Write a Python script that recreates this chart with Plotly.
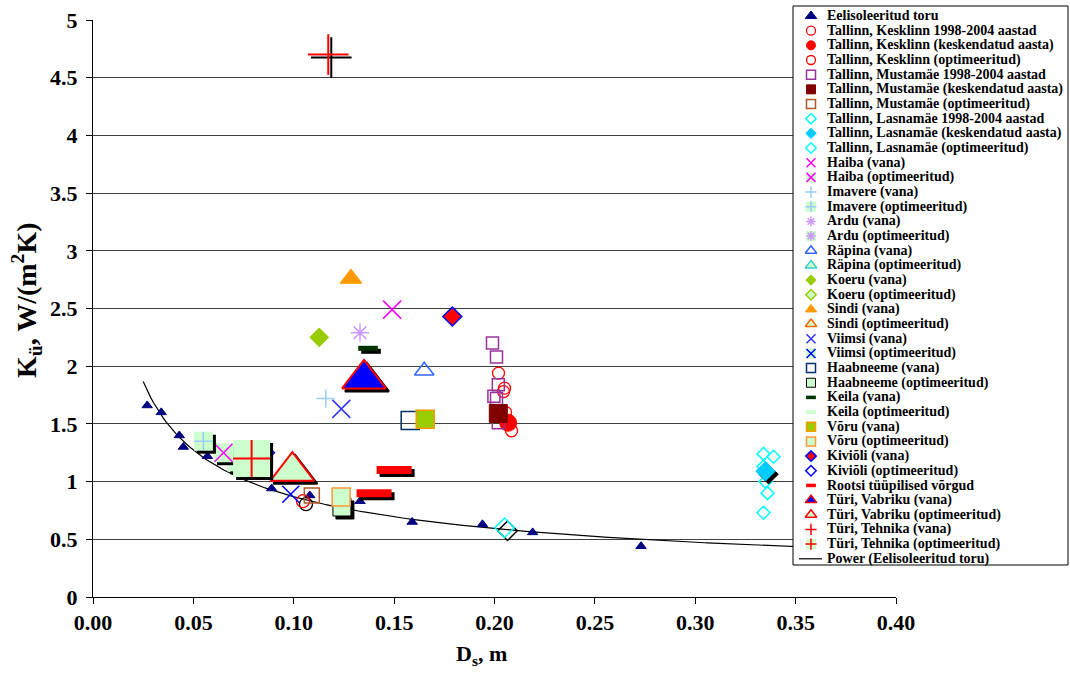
import numpy as np
import plotly.graph_objects as go

# ---------------- canvas / layout constants ----------------
W, H = 1070, 680
PX_L, PX_R, PX_T, PX_B = 93, 896, 20, 597          # main plot area (pixels)
LEG_L, LEG_R, LEG_T, LEG_B = 793, 1068, 6, 565      # legend box (pixels)
LEG_Y0, LEG_DY = 16, 14.67                          # first legend row, row pitch
LEG_MX, LEG_TX = 811, 825                           # legend marker x, text x
X_RANGE = [0.0, 0.40]
Y_RANGE = [0.0, 5.0]
FONT = "Liberation Serif"
LIGHT = "#CCFFCC"
SHADOW_PX = 3

# ---------------- data ----------------
EEL_X = [0.027, 0.034, 0.043, 0.045, 0.057, 0.089, 0.108, 0.133, 0.159, 0.194, 0.219, 0.273]
EEL_Y = [1.66, 1.60, 1.40, 1.30, 1.22, 0.94, 0.88, 0.83, 0.65, 0.63, 0.56, 0.44]

KESK_X = [0.202, 0.205, 0.2045, 0.2055, 0.2085]
KESK_Y = [1.94, 1.81, 1.78, 1.60, 1.44]
KESK_AVG_X = [0.2068]
KESK_AVG_Y = [1.51]
KESK_OPT_X = [0.1046]
KESK_OPT_Y = [0.83]

MUST_X = [0.199, 0.201, 0.2019, 0.1997, 0.201, 0.2019]
MUST_Y = [2.20, 2.08, 1.84, 1.74, 1.72, 1.51]
MUST_AVG_X = [0.2019]
MUST_AVG_Y = [1.59]
MUST_OPT_X = [0.109]
MUST_OPT_Y = [0.88]

LASN_X = [0.334, 0.339, 0.334, 0.335, 0.336, 0.334]
LASN_Y = [1.24, 1.215, 1.13, 1.00, 0.90, 0.73]
LASN_AVG_X = [0.335]
LASN_AVG_Y = [1.09]
LASN_OPT_X = [0.205]
LASN_OPT_Y = [0.60]

HAIBA_X, HAIBA_Y = [0.149], [2.49]
HAIBA_OPT_X, HAIBA_OPT_Y = [0.065], [1.25]
IMAV_X, IMAV_Y = [0.116], [1.72]
IMAV_OPT_X, IMAV_OPT_Y = [0.055], [1.35]
ARDU_X, ARDU_Y = [0.133], [2.29]
ARDU_OPT_X, ARDU_OPT_Y = [0.080], [1.20]
RAPINA_X, RAPINA_Y = [0.165], [1.96]
RAPINA_OPT_X, RAPINA_OPT_Y = [0.0836], [1.09]
KOERU_X, KOERU_Y = [0.1127], [2.25]
KOERU_OPT_X, KOERU_OPT_Y = [0.079], [1.18]
SINDI_X, SINDI_Y = [0.1285], [2.76]
SINDI_OPT_X, SINDI_OPT_Y = [0.099], [1.07]
VIIMSI_X, VIIMSI_Y = [0.1237], [1.63]
VIIMSI_OPT_X, VIIMSI_OPT_Y = [0.0985], [0.89]
HAAB_X, HAAB_Y = [0.158], [1.53]
HAAB_OPT_X, HAAB_OPT_Y = [0.124], [0.78]
KEILA_X, KEILA_Y = [0.137], [2.155]
KEILA_OPT_X, KEILA_OPT_Y = [0.0717], [1.11]
VORU_X, VORU_Y = [0.1655], [1.54]
VORU_OPT_X, VORU_OPT_Y = [0.1236], [0.867]
KIVI_X, KIVI_Y = [0.179], [2.43]
KIVI_OPT_X, KIVI_OPT_Y = [0.0857], [1.25]
ROOTSI_X, ROOTSI_Y = [0.150, 0.140], [1.10, 0.90]
TURIV_X, TURIV_Y = [0.135], [1.89]
TURIV_OPT_X, TURIV_OPT_Y = [0.0993], [1.09]
TURIT_X, TURIT_Y = [0.1172], [4.70]
TURIT_OPT_X, TURIT_OPT_Y = [0.079], [1.20]

TREND_X_START, TREND_X_END = 0.025, 0.40

X_TICKS = [0.00, 0.05, 0.10, 0.15, 0.20, 0.25, 0.30, 0.35, 0.40]
Y_TICKS = [0, 0.5, 1, 1.5, 2, 2.5, 3, 3.5, 4, 4.5, 5]

# ---------------- series table ----------------
S = lambda **k: k
SERIES = [
    S(name="Eelisoleeritud toru", x=EEL_X, y=EEL_Y, sym="triangle-up", size=9, color="#000080"),
    S(name="Tallinn, Kesklinn 1998-2004 aastad", x=KESK_X, y=KESK_Y, sym="circle-open", size=12, color="#FF0000", lw=1.3),
    S(name="Tallinn, Kesklinn (keskendatud aasta)", x=KESK_AVG_X, y=KESK_AVG_Y, sym="circle", size=17, color="#FF0000"),
    S(name="Tallinn, Kesklinn (optimeeritud)", x=KESK_OPT_X, y=KESK_OPT_Y, sym="circle-open", size=13, color="#FF0000", lw=1.3, shadow=True),
    S(name="Tallinn, Mustamäe 1998-2004 aastad", x=MUST_X, y=MUST_Y, sym="square-open", size=12, color="#993399", lw=1.5),
    S(name="Tallinn, Mustamäe (keskendatud aasta)", x=MUST_AVG_X, y=MUST_AVG_Y, sym="square", size=18, color="#800000"),
    S(name="Tallinn, Mustamäe (optimeeritud)", x=MUST_OPT_X, y=MUST_OPT_Y, sym="square-open", size=15, color="#B0582A", lw=1.5),
    S(name="Tallinn, Lasnamäe 1998-2004 aastad", x=LASN_X, y=LASN_Y, sym="diamond-open", size=10, color="#00FFFF", lw=1.5),
    S(name="Tallinn, Lasnamäe (keskendatud aasta)", x=LASN_AVG_X, y=LASN_AVG_Y, sym="diamond", size=15, color="#00CCFF", shadow=True),
    S(name="Tallinn, Lasnamäe (optimeeritud)", x=LASN_OPT_X, y=LASN_OPT_Y, sym="diamond-open", size=15, color="#00FFFF", lw=1.5, shadow=True),
    S(name="Haiba (vana)", x=HAIBA_X, y=HAIBA_Y, sym="x-thin", size=18, color="#FF00FF", lw=1.5),
    S(name="Haiba (optimeeritud)", x=HAIBA_OPT_X, y=HAIBA_OPT_Y, sym="x-thin", size=18, color="#FF00FF", lw=1.5, bg=19, shadow=True),
    S(name="Imavere (vana)", x=IMAV_X, y=IMAV_Y, sym="cross-thin", size=13, color="#99CCFF", lw=1.5),
    S(name="Imavere (optimeeritud)", x=IMAV_OPT_X, y=IMAV_OPT_Y, sym="cross-thin", size=13, color="#99CCFF", lw=1.5, bg=19, shadow=True),
    S(name="Ardu (vana)", x=ARDU_X, y=ARDU_Y, sym="asterisk", size=15, color="#CC99FF", lw=1.5),
    S(name="Ardu (optimeeritud)", x=ARDU_OPT_X, y=ARDU_OPT_Y, sym="asterisk", size=15, color="#CC99FF", lw=1.5, bg=19),
    S(name="Räpina (vana)", x=RAPINA_X, y=RAPINA_Y, sym="triangle-up-open", size=17, color="#3366FF", lw=1.5),
    S(name="Räpina (optimeeritud)", x=RAPINA_OPT_X, y=RAPINA_OPT_Y, sym="triangle-up", size=17, color=LIGHT, lcolor="#33CCCC", lw=1.5),
    S(name="Koeru (vana)", x=KOERU_X, y=KOERU_Y, sym="diamond", size=14.5, color="#99CC00"),
    S(name="Koeru (optimeeritud)", x=KOERU_OPT_X, y=KOERU_OPT_Y, sym="diamond", size=14.5, color=LIGHT, lcolor="#99CC00", lw=1.5),
    S(name="Sindi (vana)", x=SINDI_X, y=SINDI_Y, sym="triangle-up", size=19, color="#FF9900"),
    S(name="Sindi (optimeeritud)", x=SINDI_OPT_X, y=SINDI_OPT_Y, sym="triangle-up", size=17, color=LIGHT, lcolor="#FF6600", lw=1.5),
    S(name="Viimsi (vana)", x=VIIMSI_X, y=VIIMSI_Y, sym="x-thin", size=18, color="#3333FF", lw=1.5),
    S(name="Viimsi (optimeeritud)", x=VIIMSI_OPT_X, y=VIIMSI_OPT_Y, sym="x-thin", size=17, color="#0000FF", lw=1.5, lbg=True),
    S(name="Haabneeme (vana)", x=HAAB_X, y=HAAB_Y, sym="square-open", size=18, color="#003366", lw=1.5),
    S(name="Haabneeme (optimeeritud)", x=HAAB_OPT_X, y=HAAB_OPT_Y, sym="square", size=18, color=LIGHT, lcolor="#000000", lw=1, shadow=True),
    S(name="Keila (vana)", x=KEILA_X, y=KEILA_Y, sym="line-ew", size=14, color="#003300", lw=5, shadow=True),
    S(name="Keila (optimeeritud)", x=KEILA_OPT_X, y=KEILA_OPT_Y, sym="line-ew", size=14, color=LIGHT, lw=5, shadow=True),
    S(name="Võru (vana)", x=VORU_X, y=VORU_Y, sym="square", size=18, color="#99CC00", lcolor="#FF9900", lw=1.5),
    S(name="Võru (optimeeritud)", x=VORU_OPT_X, y=VORU_OPT_Y, sym="square", size=18, color=LIGHT, lcolor="#FF9933", lw=1.5),
    S(name="Kiviõli (vana)", x=KIVI_X, y=KIVI_Y, sym="diamond", size=14.5, color="#FF0000", lcolor="#0000FF", lw=1.5),
    S(name="Kiviõli (optimeeritud)", x=KIVI_OPT_X, y=KIVI_OPT_Y, sym="diamond", size=14.5, color="#FFFFFF", lcolor="#0000FF", lw=1.5),
    S(name="Rootsi tüüpilised võrgud", x=ROOTSI_X, y=ROOTSI_Y, sym="line-ew", size=25, color="#FF0000", lw=8, shadow=True),
    S(name="Türi, Vabriku (vana)", x=TURIV_X, y=TURIV_Y, sym="triangle-up", size=38, color="#0000FF", lcolor="#FF0000", lw=2, shadow=True),
    S(name="Türi, Vabriku (optimeeritud)", x=TURIV_OPT_X, y=TURIV_OPT_Y, sym="triangle-up", size=38, color=LIGHT, lcolor="#FF0000", lw=2, shadow=True),
    S(name="Türi, Tehnika (vana)", x=TURIT_X, y=TURIT_Y, sym="cross-thin", size=29, color="#FF0000", lw=2, shadow=True),
    S(name="Türi, Tehnika (optimeeritud)", x=TURIT_OPT_X, y=TURIT_OPT_Y, sym="cross-thin", size=26.5, color="#FF0000", lw=2, bg=37, shadow=True),
]
TREND_NAME = "Power (Eelisoleeritud toru)"

LEG_SIZE = {"triangle-up": 10, "triangle-up-open": 10, "circle": 9, "circle-open": 9,
            "square": 9, "square-open": 9, "diamond": 8, "diamond-open": 8,
            "x-thin": 9, "cross-thin": 8, "asterisk": 8, "line-ew": 7}

# ---------------- helpers ----------------
DX = SHADOW_PX * (X_RANGE[1] - X_RANGE[0]) / (PX_R - PX_L)
DY = -SHADOW_PX * (Y_RANGE[1] - Y_RANGE[0]) / (PX_B - PX_T)


def pts(xs, ys, sym, size, color, lcolor, lw, xa="x", ya="y"):
    return go.Scatter(x=xs, y=ys, mode="markers", xaxis=xa, yaxis=ya, showlegend=False,
                      hoverinfo="skip", cliponaxis=False,
                      marker=dict(symbol=sym, size=size, color=color,
                                  line=dict(color=lcolor, width=lw)))


def series_traces(s, xs, ys, xa="x", ya="y", legend=False):
    out = []
    color = s["color"]
    lcolor = s.get("lcolor", color)
    lw = s.get("lw", 1)
    size = s["size"]
    bg = s.get("bg")
    if legend:
        size = LEG_SIZE[s["sym"]]
        if s["sym"] == "line-ew":
            lw = 3.5
        elif lw > 1.5:
            lw = 1.5
        bg = 10 if (bg or s.get("lbg")) else None
    elif s.get("shadow"):
        sx = [v + DX for v in xs]
        sy = [v + DY for v in ys]
        if bg:
            out.append(pts(sx, sy, "square", bg, "#000000", "#000000", 0, xa, ya))
        out.append(pts(sx, sy, s["sym"], size, "#000000", "#000000", lw, xa, ya))
    if bg:
        out.append(pts(xs, ys, "square", bg, LIGHT, LIGHT, 0, xa, ya))
    out.append(pts(xs, ys, s["sym"], size, color, lcolor, lw, xa, ya))
    return out


fig = go.Figure()

# power trendline fitted to "Eelisoleeritud toru" (as Excel does)
b, ln_a = np.polyfit(np.log(EEL_X), np.log(EEL_Y), 1)
tx = np.linspace(TREND_X_START, TREND_X_END, 300)
fig.add_trace(go.Scatter(x=tx, y=np.exp(ln_a) * tx ** b, mode="lines", showlegend=False,
                         hoverinfo="skip", line=dict(color="#000000", width=1.2)))

for s in SERIES:
    for t in series_traces(s, s["x"], s["y"]):
        fig.add_trace(t)

# ---------------- hand-drawn legend (second axes on top) ----------------
fig.add_trace(go.Scatter(x=[LEG_L, LEG_R, LEG_R, LEG_L, LEG_L], y=[LEG_T, LEG_T, LEG_B, LEG_B, LEG_T],
                         mode="lines", fill="toself", fillcolor="#FFFFFF",
                         line=dict(color="#000000", width=1), xaxis="x2", yaxis="y2",
                         showlegend=False, hoverinfo="skip"))
annotations = []
names = [s["name"] for s in SERIES] + [TREND_NAME]
for i, name in enumerate(names):
    yy = LEG_Y0 + i * LEG_DY
    if i < len(SERIES):
        for t in series_traces(SERIES[i], [LEG_MX], [yy], "x2", "y2", legend=True):
            fig.add_trace(t)
    else:
        fig.add_trace(go.Scatter(x=[LEG_MX - 12, LEG_MX + 11], y=[yy, yy], mode="lines",
                                 xaxis="x2", yaxis="y2", showlegend=False, hoverinfo="skip",
                                 line=dict(color="#000000", width=1.2)))
    annotations.append(dict(x=LEG_TX, y=yy, xref="x2", yref="y2", text="<b>%s</b>" % name,
                            showarrow=False, xanchor="left", yanchor="middle",
                            font=dict(family=FONT, size=14, color="#000000")))

# axis titles
annotations.append(dict(x=26 / W, y=1 - 300 / H, xref="paper", yref="paper", textangle=-90,
                        text="<b>K<sub>ü</sub>, W/(m<sup>2</sup>K)</b>", showarrow=False,
                        xanchor="center", yanchor="middle",
                        font=dict(family=FONT, size=28, color="#000000")))
annotations.append(dict(x=481 / W, y=1 - 655 / H, xref="paper", yref="paper",
                        text="<b>D<sub>s</sub>, m</b>", showarrow=False,
                        xanchor="center", yanchor="middle",
                        font=dict(family=FONT, size=22, color="#000000")))

tickfont = dict(family=FONT, size=22, color="#000000", weight="bold")
fig.update_layout(
    width=W, height=H, margin=dict(l=0, r=0, t=0, b=0, autoexpand=False),
    paper_bgcolor="#FFFFFF", plot_bgcolor="rgba(0,0,0,0)",
    showlegend=False, annotations=annotations,
    xaxis=dict(domain=[PX_L / W, PX_R / W], range=X_RANGE, tickvals=X_TICKS, tickformat=".2f",
               showgrid=False, zeroline=False, showline=True, linecolor="#000000", linewidth=1,
               ticks="outside", ticklen=6, tickcolor="#000000", tickfont=tickfont, anchor="y",
               automargin=False),
    yaxis=dict(domain=[1 - PX_B / H, 1 - PX_T / H], range=Y_RANGE, tickvals=Y_TICKS,
               showgrid=True, gridcolor="#404040", gridwidth=1, zeroline=False,
               showline=True, linecolor="#000000", linewidth=1,
               ticks="outside", ticklen=6, tickcolor="#000000", tickfont=tickfont, anchor="x",
               automargin=False, ticklabelstandoff=4),
    xaxis2=dict(domain=[(LEG_L - 2) / W, 1.0], range=[LEG_L - 2, W], visible=False,
                fixedrange=True, anchor="y2", automargin=False),
    yaxis2=dict(domain=[1 - (LEG_B + 3) / H, 1 - (LEG_T - 4) / H], range=[LEG_B + 3, LEG_T - 4],
                visible=False, fixedrange=True, anchor="x2", automargin=False),
)

fig.write_html("out.html")
